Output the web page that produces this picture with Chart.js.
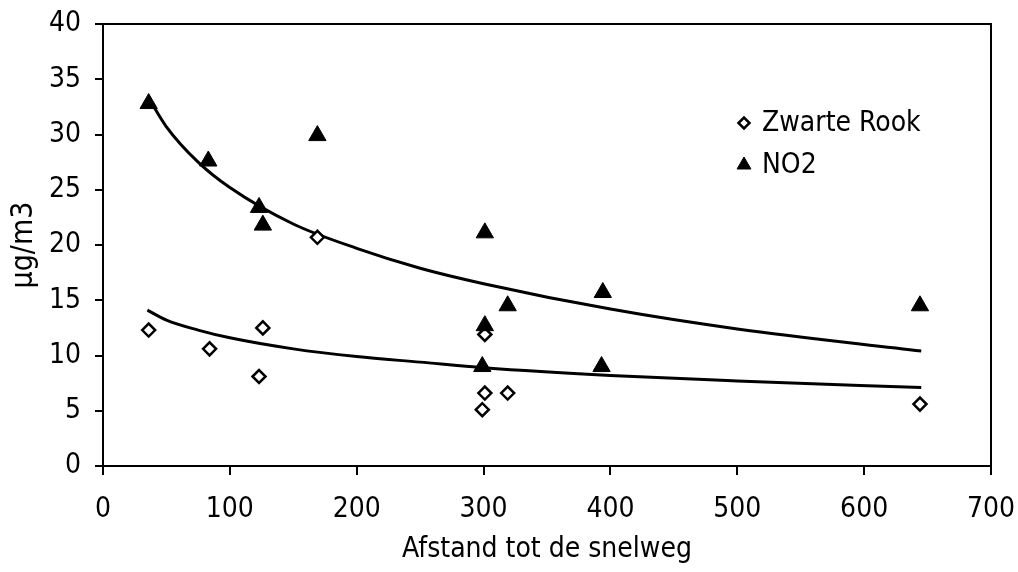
<!DOCTYPE html>
<html>
<head>
<meta charset="utf-8">
<script src="https://cdn.jsdelivr.net/npm/chart.js@4/dist/chart.umd.min.js"></script>
<style>
  html, body { margin: 0; padding: 0; background: #ffffff; }
  #wrap { width: 1018px; height: 572px; }
</style>
</head>
<body>
<div id="wrap"><canvas id="c" width="1018" height="572"></canvas></div>
<script>
// ---- data ----
const seriesNames = ['Zwarte Rook', 'NO2'];
const xTitle = 'Afstand tot de snelweg';
const yTitle = 'µg/m3';

const rookDistance = [36, 84, 123, 126, 169, 301, 301, 319, 299, 644];
const rookValue    = [12.3, 10.6, 8.1, 12.5, 20.7, 11.9, 6.6, 6.6, 5.1, 5.6];

const no2Distance = [36, 83, 123, 126, 169, 301, 301, 299, 319, 394, 393, 644];
const no2Value    = [32.8, 27.6, 23.4, 21.8, 29.9, 21.1, 12.7, 9.0, 14.5, 15.7, 9.0, 14.5];

// trend curves
const trendDistance = [36, 50, 75, 100, 150, 200, 250, 300, 400, 500, 645];
const no2Trend      = [33.3, 30.7, 27.5, 25.2, 21.9, 19.7, 17.9, 16.5, 14.2, 12.4, 10.4];
const rookTrendDist = [35, 50, 75, 100, 150, 200, 250, 300, 400, 500, 645];
const rookTrend     = [14.1, 13.2, 12.3, 11.6, 10.6, 9.9, 9.4, 8.9, 8.2, 7.7, 7.1];

const FONT = "'DejaVu Sans Condensed', 'DejaVu Sans', sans-serif";

const toXY = (xs, ys) => xs.map((x, i) => ({ x: x, y: ys[i] }));

const frame = {
  id: 'frame',
  afterDatasetsDraw(chart) {
    const { ctx, chartArea: a } = chart;
    ctx.save();
    ctx.strokeStyle = '#000';
    ctx.lineWidth = 2;
    ctx.strokeRect(a.left, a.top, a.right - a.left, a.bottom - a.top);
    ctx.restore();
  },
  afterDraw(chart) {
    const { ctx } = chart;
    ctx.save();
    const items = [
      { ds: chart.data.datasets[0], y: 123 },
      { ds: chart.data.datasets[1], y: 165 }
    ];
    items.forEach(it => {
      ctx.strokeStyle = '#000';
      ctx.fillStyle = it.ds.pointBackgroundColor;
      ctx.lineWidth = it.ds.pointBorderWidth;
      Chart.helpers.drawPoint(ctx, {
        pointStyle: it.ds.pointStyle,
        radius: it.ds.pointStyle === 'triangle' ? 8 : 5.5,
        rotation: 0,
        borderWidth: it.ds.pointBorderWidth
      }, 744, it.y);
      ctx.fillStyle = '#000';
      ctx.font = '28px ' + FONT;
      ctx.textBaseline = 'middle';
      ctx.textAlign = 'left';
      ctx.fillText(it.ds.label, 762, it.y + 1);
    });
    ctx.restore();
  }
};

new Chart(document.getElementById('c'), {
  type: 'scatter',
  data: {
    datasets: [
      {
        label: seriesNames[0],
        data: toXY(rookDistance, rookValue),
        pointStyle: 'rectRot',
        pointRadius: 6.5,
        pointHoverRadius: 6.5,
        pointBackgroundColor: '#ffffff',
        pointBorderColor: '#000000',
        pointBorderWidth: 2.5,
        order: 1
      },
      {
        label: seriesNames[1],
        data: toXY(no2Distance, no2Value),
        pointStyle: 'triangle',
        pointRadius: 10,
        pointHoverRadius: 10,
        pointBackgroundColor: '#000000',
        pointBorderColor: '#000000',
        pointBorderWidth: 1,
        order: 0
      },
      {
        label: 'NO2 trend',
        type: 'line',
        data: toXY(trendDistance, no2Trend),
        borderColor: '#000000',
        borderWidth: 3,
        pointRadius: 0,
        cubicInterpolationMode: 'monotone',
        fill: false,
        order: 2
      },
      {
        label: 'Zwarte Rook trend',
        type: 'line',
        data: toXY(rookTrendDist, rookTrend),
        borderColor: '#000000',
        borderWidth: 3,
        pointRadius: 0,
        cubicInterpolationMode: 'monotone',
        fill: false,
        order: 2
      }
    ]
  },
  options: {
    responsive: false,
    animation: false,
    events: [],
    layout: { padding: { left: 0, top: 24, right: 27, bottom: 0 } },
    plugins: {
      legend: { display: false },
      tooltip: { enabled: false }
    },
    scales: {
      x: {
        type: 'linear',
        min: 0, max: 700,
        afterFit(s) { s.height = 106; s.paddingLeft = 0; s.paddingRight = 0; },
        ticks: { stepSize: 100, color: '#000', padding: 18, font: { family: FONT, size: 28 } },
        grid: { display: true, drawOnChartArea: false, drawTicks: true, tickLength: 9, color: '#000', lineWidth: 2 },
        border: { display: true, color: '#000', width: 2 },
        title: { display: true, text: xTitle, color: '#000', padding: { top: 0, bottom: 5 }, font: { family: FONT, size: 28 } }
      },
      y: {
        type: 'linear',
        min: 0, max: 40,
        afterFit(s) { s.width = 103; s.paddingTop = 0; s.paddingBottom = 0; },
        ticks: { stepSize: 5, color: '#000', padding: 14, font: { family: FONT, size: 28 } },
        grid: { display: true, drawOnChartArea: false, drawTicks: true, tickLength: 8, color: '#000', lineWidth: 2 },
        border: { display: true, color: '#000', width: 2 },
        title: { display: true, text: yTitle, color: '#000', padding: { top: 6, bottom: 0 }, font: { family: FONT, size: 30 } }
      }
    }
  },
  plugins: [frame]
});
</script>
</body>
</html>
